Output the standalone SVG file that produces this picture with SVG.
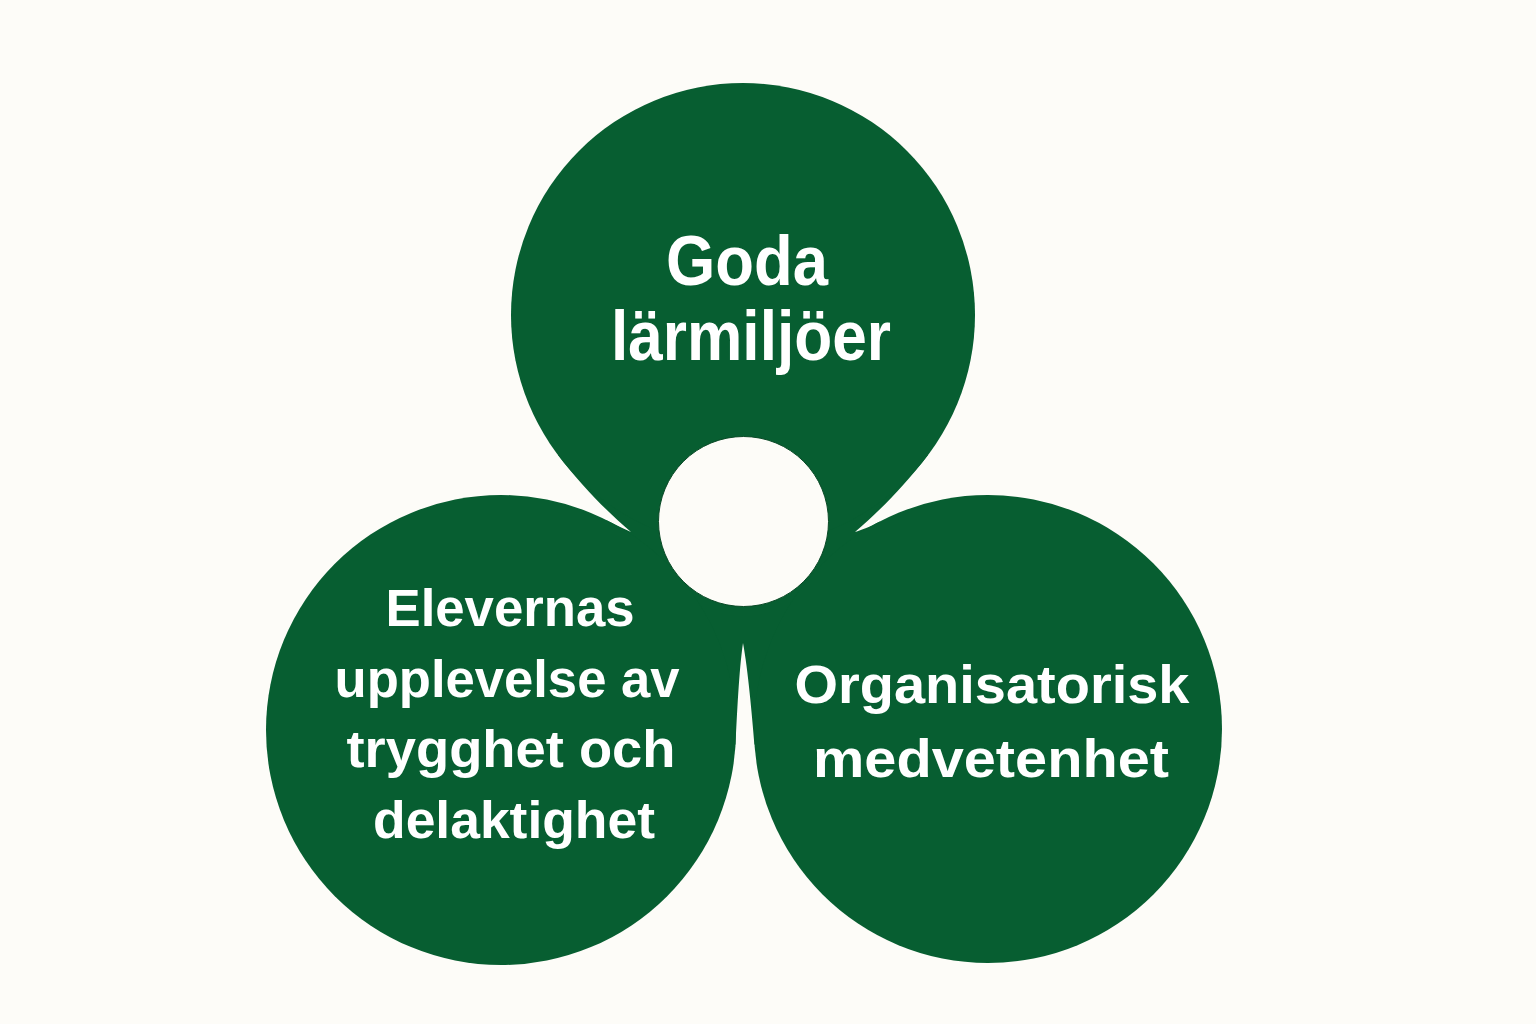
<svg xmlns="http://www.w3.org/2000/svg" width="1536" height="1024" viewBox="0 0 1536 1024">
<style>
.bg{fill:#fdfcf8}
.petal{fill:#075e31}
.web{fill:#075e31}
.hole{fill:#fdfcf8;stroke:#0a4a27;stroke-width:1}
.lbl{font-family:"Liberation Sans",Arial,"Noto Sans",sans-serif;font-weight:700;fill:#ffffff;text-anchor:middle}
.big{font-size:70px}
.mid{font-size:51px}
.rt{font-size:53px}
</style>
<rect class="bg" x="0" y="0" width="1536" height="1024"/>
<g id="connectors">
<path class="web" d="M631,532 C609,513 583,488 558,455 L928,455 C903,488 877,513 855,532 C862,529.5 868,527.5 880,521.4 L820,640 L754.5,745 C752,715 748,670 743,643 C739,670 737,715 735.5,745 L670,640 L606,520 C616,525 624,529 631,532 Z"/>
</g>
<g id="node-goda">
<circle class="petal" cx="743" cy="315" r="232"/>
<text class="lbl big" x="747" y="285" textLength="162" lengthAdjust="spacingAndGlyphs">Goda</text>
<text class="lbl big" x="751" y="360" textLength="280" lengthAdjust="spacingAndGlyphs">lärmiljöer</text>
</g>
<g id="node-elevernas">
<circle class="petal" cx="501" cy="730" r="235"/>
<text class="lbl mid" x="510" y="626" textLength="249" lengthAdjust="spacingAndGlyphs">Elevernas</text>
<text class="lbl mid" x="507" y="697" textLength="345" lengthAdjust="spacingAndGlyphs">upplevelse av</text>
<text class="lbl mid" x="511" y="767" textLength="329" lengthAdjust="spacingAndGlyphs">trygghet och</text>
<text class="lbl mid" x="514" y="838" textLength="282" lengthAdjust="spacingAndGlyphs">delaktighet</text>
</g>
<g id="node-organisatorisk">
<circle class="petal" cx="988" cy="729" r="234"/>
<text class="lbl rt" x="992" y="703" textLength="395" lengthAdjust="spacingAndGlyphs">Organisatorisk</text>
<text class="lbl rt" x="991" y="777" textLength="356" lengthAdjust="spacingAndGlyphs">medvetenhet</text>
</g>
<g id="hub">
<circle class="hole" cx="743.5" cy="521.5" r="85"/>
</g>
</svg>
